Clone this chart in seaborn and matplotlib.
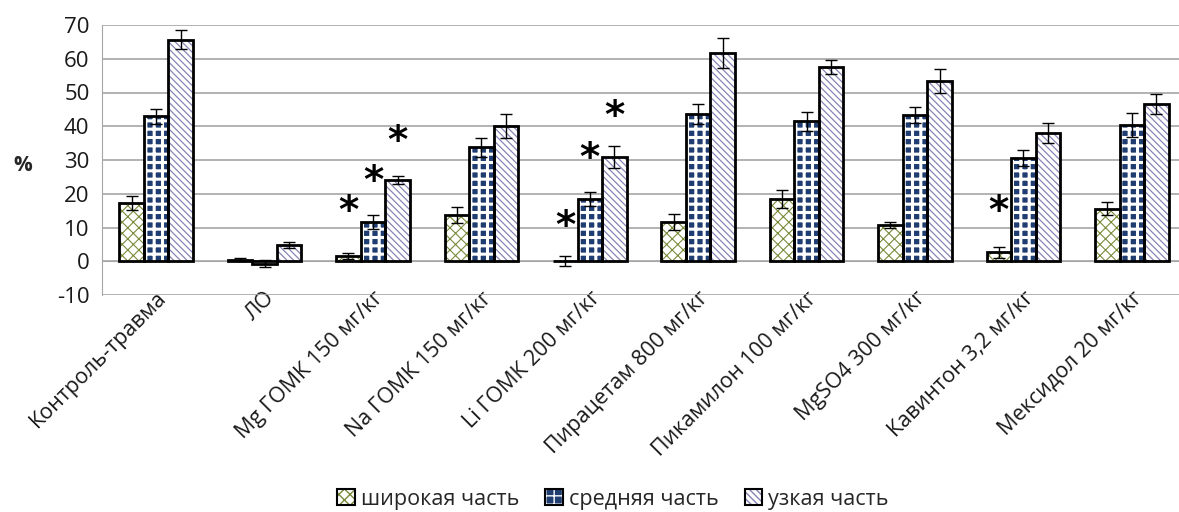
import seaborn as sns
import pandas as pd
import matplotlib.pyplot as plt
import matplotlib.transforms as mtransforms
from matplotlib.patches import Rectangle, Patch

groups = ["Контроль-травма", "ЛО", "Mg ГОМК 150 мг/кг", "Na ГОМК 150 мг/кг",
          "Li ГОМК 200 мг/кг", "Пирацетам 800 мг/кг", "Пикамилон 100 мг/кг",
          "MgSO4 300 мг/кг", "Кавинтон 3,2 мг/кг", "Мексидол 20 мг/кг"]
parts = ["широкая часть", "средняя часть", "узкая часть"]

wide = [17.3, 0.5, 1.5, 13.6, 0.1, 11.6, 18.5, 10.7, 2.7, 15.6]
wide_err = [2.0, 0.4, 0.8, 2.4, 1.4, 2.3, 2.6, 0.9, 1.6, 2.0]
middle = [42.9, -0.7, 11.6, 33.8, 18.5, 43.7, 41.5, 43.3, 30.5, 40.3]
middle_err = [2.3, 1.0, 2.0, 2.8, 2.0, 3.0, 2.8, 2.4, 2.4, 3.5]
narrow = [65.7, 4.8, 24.0, 40.0, 30.9, 61.7, 57.6, 53.5, 37.9, 46.6]
narrow_err = [2.9, 1.0, 1.2, 3.5, 3.2, 4.5, 2.0, 3.5, 3.0, 3.1]

# significance marks: (group index, part index, y)
stars = [(2, 0, 16.4), (2, 1, 25.2), (2, 2, 37.0),
         (4, 0, 11.9), (4, 1, 32.2), (4, 2, 44.5),
         (8, 0, 16.4)]

sns.set_style("white")
plt.rcParams['font.family'] = ['Open Sans', 'DejaVu Sans']
plt.rcParams['hatch.linewidth'] = 1.0
plt.rcParams['axes.unicode_minus'] = False

df = pd.DataFrame({
    "group": groups * 3,
    "part": [p for p in parts for _ in groups],
    "value": wide + middle + narrow,
})

fig = plt.figure(figsize=(11.79, 5.12), dpi=100)
ax = fig.add_axes([102 / 1179, 217 / 512, 1084 / 1179, 270 / 512])

sns.barplot(data=df, x="group", y="value", hue="part", order=groups, hue_order=parts,
            palette=["white"] * 3, width=0.68, errorbar=None, legend=False, ax=ax)

grey = "#a6a6a6"
navy = "#1f3d70"
styles = [("white", "xxx", "#7a8c3c"), (navy, "++", "white"), ("white", "\\\\\\\\\\", "#8884b4")]
hatch_lw = [0.8, 2.2, 0.9]
errs = [wide_err, middle_err, narrow_err]
bar_sets = list(ax.containers)
centers = []
for j, cont in enumerate(bar_sets):
    face, hatch, hcol = styles[j]
    xs, ys = [], []
    for bar in cont:
        bar.set_facecolor(face)
        bar.set_hatch(hatch)
        bar.set_edgecolor(hcol)
        bar.set_linewidth(0)
        if hasattr(bar, "set_hatch_linewidth"):
            bar.set_hatch_linewidth(hatch_lw[j])
        ax.add_patch(Rectangle(bar.get_xy(), bar.get_width(), bar.get_height(), fill=False,
                               edgecolor="black", lw=2, zorder=3))
        xs.append(bar.get_x() + bar.get_width() / 2)
        ys.append(bar.get_height())
    centers.append(xs)
    ax.errorbar(xs, ys, yerr=errs[j], fmt="none", ecolor="black", elinewidth=1,
                capsize=4, capthick=1, zorder=5)

star_shift = mtransforms.ScaledTranslation(0, -6 / 100, fig.dpi_scale_trans)
for g, p, y in stars:
    ax.text(centers[p][g], y, "*", ha="center", va="center", fontsize=28,
            fontweight="bold", family="DejaVu Sans", color="black",
            transform=ax.transData + star_shift)

ax.set_ylim(-10, 70)
ax.set_xlim(-0.5, 9.5)
ax.set_yticks(range(-10, 71, 10))
ax.yaxis.grid(True, color=grey, lw=1.2)
ax.set_axisbelow(True)
ax.tick_params(axis="y", labelsize=16, length=5, color=grey, pad=4, labelcolor="#1a1a1a")

ax.spines["top"].set_visible(False)
ax.spines["right"].set_visible(False)
ax.spines["left"].set_color(grey)
ax.spines["bottom"].set_color(grey)
ax.spines["bottom"].set_position(("data", 0))

ax.set_xticks(range(len(groups)))
ax.set_xticklabels(groups, rotation=45, ha="right", va="top", rotation_mode="anchor")
ax.set_xticks([i + 0.5 for i in range(len(groups) - 1)], minor=True)
ax.tick_params(axis="x", which="major", length=0, pad=19, labelsize=15.5, labelcolor="#1a1a1a")
ax.tick_params(axis="x", which="minor", length=6, color=grey, width=1.2)

ax.set_xlabel("")
ax.set_ylabel("%", rotation=0, fontsize=15, fontweight="bold", ha="center", va="center")
ax.yaxis.set_label_coords(-0.073, 0.48)

handles = []
for face, hatch, hcol in styles:
    handles.append((Patch(facecolor=face, hatch=hatch, edgecolor=hcol, lw=0),
                    Patch(fill=False, edgecolor="black", lw=1.5)))
fig.legend(handles, parts, loc="center", bbox_to_anchor=(0.52, 0.025), ncol=3, frameon=False,
           fontsize=15.5, handlelength=0.8, handleheight=0.8, handletextpad=0.3,
           columnspacing=1.2)

fig.savefig("out.png", dpi=100)
